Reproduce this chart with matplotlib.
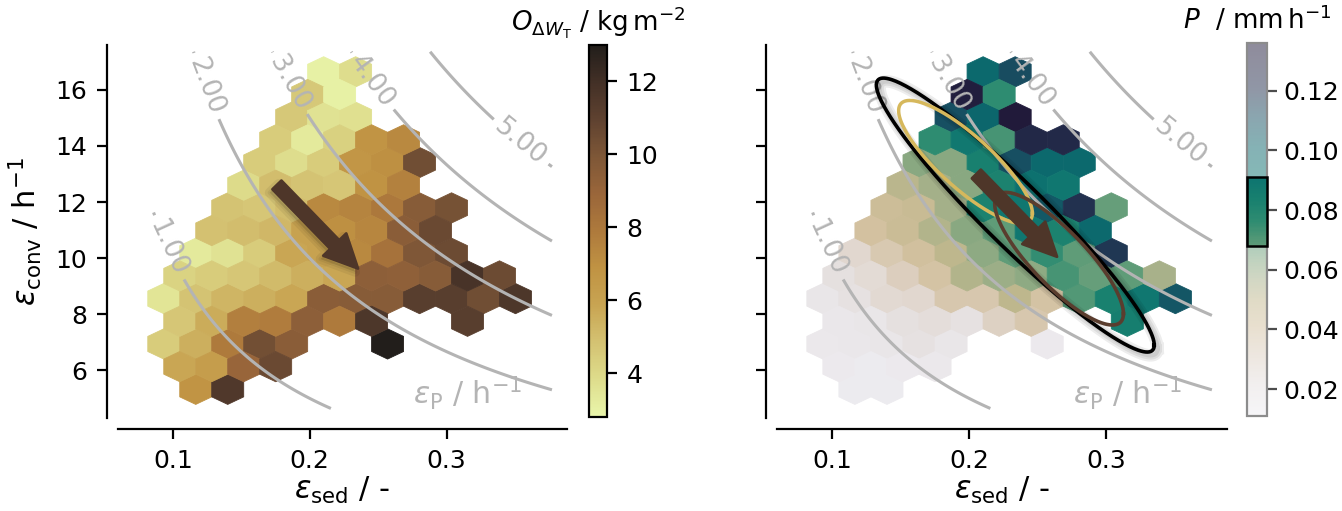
import numpy as np
import matplotlib
matplotlib.use("Agg")
import matplotlib.pyplot as plt
import matplotlib.patheffects as pe
from matplotlib.colors import LinearSegmentedColormap, Normalize
from matplotlib.cm import ScalarMappable
from matplotlib.patches import FancyArrowPatch, ArrowStyle, Rectangle

# hexbin cell centres (row by row, top to bottom) and the cell means
eps_sed = [
    0.2102, 0.2336,
    0.1986, 0.2219,
    0.1869, 0.2102, 0.2336,
    0.1752, 0.1986, 0.2219, 0.2453, 0.2686,
    0.1635, 0.1869, 0.2102, 0.2336, 0.2569, 0.2803,
    0.1518, 0.1752, 0.1986, 0.2219, 0.2453, 0.2686,
    0.1401, 0.1635, 0.1869, 0.2102, 0.2336, 0.2569, 0.2803, 0.3037,
    0.1285, 0.1518, 0.1752, 0.1986, 0.2219, 0.2453, 0.2686, 0.2920,
    0.1168, 0.1401, 0.1635, 0.1869, 0.2102, 0.2336, 0.2569, 0.2803, 0.3037,
    0.1051, 0.1285, 0.1518, 0.1752, 0.1986, 0.2219, 0.2453, 0.2686, 0.2920, 0.3153, 0.3387,
    0.0934, 0.1168, 0.1401, 0.1635, 0.1869, 0.2102, 0.2336, 0.2569, 0.2803, 0.3037, 0.3270, 0.3504,
    0.1051, 0.1285, 0.1518, 0.1752, 0.1986, 0.2219, 0.2453, 0.3153,
    0.0934, 0.1168, 0.1401, 0.1635, 0.1869, 0.2569,
    0.1051, 0.1285, 0.1518, 0.1752,
    0.1168, 0.1401,
]
eps_conv = [
    16.64, 16.64,
    15.83, 15.83,
    15.03, 15.03, 15.03,
    14.22, 14.22, 14.22, 14.22, 14.22,
    13.41, 13.41, 13.41, 13.41, 13.41, 13.41,
    12.60, 12.60, 12.60, 12.60, 12.60, 12.60,
    11.79, 11.79, 11.79, 11.79, 11.79, 11.79, 11.79, 11.79,
    10.98, 10.98, 10.98, 10.98, 10.98, 10.98, 10.98, 10.98,
    10.17, 10.17, 10.17, 10.17, 10.17, 10.17, 10.17, 10.17, 10.17,
    9.37, 9.37, 9.37, 9.37, 9.37, 9.37, 9.37, 9.37, 9.37, 9.37, 9.37,
    8.56, 8.56, 8.56, 8.56, 8.56, 8.56, 8.56, 8.56, 8.56, 8.56, 8.56, 8.56,
    7.75, 7.75, 7.75, 7.75, 7.75, 7.75, 7.75, 7.75,
    6.94, 6.94, 6.94, 6.94, 6.94, 6.94,
    6.13, 6.13, 6.13, 6.13,
    5.32, 5.32,
]
# water-path overshoot O_dWT (kg m-2)
owt = [
    3.0, 3.8,
    4.6, 3.0,
    4.6, 3.6, 3.7,
    4.5, 3.3, 4.3, 6.8, 7.3,
    4.5, 3.8, 4.5, 6.7, 7.0, 10.4,
    3.9, 5.0, 4.8, 4.7, 6.9, 7.6,
    4.8, 4.7, 5.0, 7.3, 7.5, 8.0, 9.6, 10.2,
    4.9, 5.0, 5.2, 6.0, 7.0, 7.4, 9.5, 10.6,
    3.3, 3.6, 4.5, 5.8, 6.0, 7.3, 8.3, 9.9, 10.5,
    4.2, 4.5, 4.7, 5.1, 5.5, 5.8, 9.4, 9.3, 9.6, 11.8, 10.5,
    3.5, 4.8, 5.3, 5.5, 5.8, 9.5, 9.6, 9.6, 11.2, 11.2, 10.4, 11.6,
    4.7, 5.6, 7.7, 7.8, 9.4, 7.9, 11.6, 11.2,
    4.5, 5.5, 7.9, 10.3, 9.5, 13.0,
    5.8, 6.3, 9.0, 10.6,
    6.8, 11.5,
]
# precipitation rate P (mm h-1)
precip = [
    0.0985, 0.112,
    0.133, 0.076,
    0.111, 0.101, 0.136,
    0.076, 0.0885, 0.072, 0.126, 0.125,
    0.062, 0.062, 0.0835, 0.111, 0.0985, 0.0985,
    0.052, 0.057, 0.062, 0.082, 0.093, 0.089,
    0.045, 0.047, 0.057, 0.082, 0.089, 0.107, 0.120, 0.067,
    0.041, 0.046, 0.0535, 0.062, 0.068, 0.089, 0.082, 0.0985,
    0.027, 0.036, 0.042, 0.051, 0.061, 0.068, 0.075, 0.068, 0.118,
    0.022, 0.025, 0.032, 0.040, 0.0535, 0.0585, 0.061, 0.072, 0.067, 0.068, 0.056,
    0.017, 0.021, 0.026, 0.027, 0.037, 0.037, 0.051, 0.040, 0.070, 0.083, 0.089, 0.108,
    0.016, 0.017, 0.022, 0.0235, 0.021, 0.031, 0.037, 0.085,
    0.015, 0.016, 0.017, 0.021, 0.017, 0.014,
    0.014, 0.013, 0.014, 0.015,
    0.013, 0.013,
]

# precipitation-efficiency isolines eps_P = eps_sed * eps_conv
ep_levels = [1, 2, 3, 4, 5]
ep_label_pos = [(0.0964, 10.36), (0.127, 16.18), (0.1876, 16.29),
                (0.2474, 16.36), (0.3555, 14.21)]

# shift of the distribution centre
shift_owt = [(0.1761, 12.61), (0.2353, 9.63)]
shift_p = [(0.2053, 13.00), (0.2641, 10.05)]

# covariance ellipses in (eps_sed, eps_conv): mean, [sxx, sxy, syy]
ell_all = [(0.2337, 11.536), (0.010255, -0.46953, 23.861)]
ell_early = [(0.1974, 13.43), (0.002376, -0.08912, 4.8075)]
ell_late = [(0.2656, 9.98), (0.0022007, -0.09182, 5.5906)]

# P band of the late cluster, highlighted on the colourbar
p_band = (0.068, 0.091)

turbid = LinearSegmentedColormap.from_list("turbid", [
    (0.0, "#e9f6ab"), (0.1, "#dedd8c"), (0.2, "#d4c272"), (0.3, "#c8a452"),
    (0.4, "#c09343"), (0.5, "#ae7a3c"), (0.6, "#9a663a"), (0.7, "#7e5737"),
    (0.8, "#5f4230"), (0.9, "#433026"), (1.0, "#221e1b")])
rain = LinearSegmentedColormap.from_list("rain", [
    (0.0, "#eeedf2"), (0.08, "#e6e1e1"), (0.16, "#ddd0c2"), (0.24, "#d3c1a0"),
    (0.31, "#c2b88e"), (0.37, "#a3b089"), (0.42, "#80a67f"), (0.46, "#5a9a77"),
    (0.52, "#2f8c71"), (0.58, "#18806f"), (0.64, "#0d7470"), (0.72, "#0c666c"),
    (0.80, "#174f62"), (0.88, "#232f4e"), (1.0, "#211a3a")])

GREY = "#b4b4b4"
ARROW = "#4e3629"
HEX_EXTENT = (0.070074, 0.397086, 3.7058, 19.8778)
TICK_FS = 9
LABEL_FS = 11


def soft_shadow(offset, widths=(1.5, 3.5), alpha=0.06):
    fx = [pe.SimplePatchShadow(offset=offset, shadow_rgbFace="k", alpha=alpha,
                               linewidth=w, foreground="k") for w in widths]
    return fx + [pe.Normal()]


def line_shadow(offset, widths=(1.5, 3, 4.5), alpha=0.07):
    fx = [pe.SimpleLineShadow(offset=offset, shadow_color="k", alpha=alpha,
                              linewidth=w) for w in widths]
    return fx + [pe.Normal()]


def draw_ellipse(ax, ell, color, lw, **kw):
    mu, (sxx, sxy, syy) = ell
    L = np.linalg.cholesky(np.array([[sxx, sxy], [sxy, syy]]))
    t = np.linspace(0, 2 * np.pi, 300)
    pts = L @ np.vstack([np.cos(t), np.sin(t)])
    return ax.plot(mu[0] + pts[0], mu[1] + pts[1], color=color, lw=lw, **kw)


def draw_arrow(ax, pts, shadow=True):
    arr = FancyArrowPatch(pts[0], pts[1],
                          arrowstyle=ArrowStyle.Simple(head_length=12, head_width=11.5, tail_width=4.5),
                          mutation_scale=1, shrinkA=0, shrinkB=0,
                          color=ARROW, zorder=6)
    if shadow:
        arr.set_path_effects(soft_shadow((-1.0, -1.2)))
    ax.add_patch(arr)


def style_axes(ax):
    for s in ("top", "right"):
        ax.spines[s].set_visible(False)
    for s in ("left", "bottom"):
        ax.spines[s].set_position(("outward", 4))
    ax.set_xlim(0.06, 0.388)
    ax.set_ylim(4.3, 17.6)
    ax.set_xticks([0.1, 0.2, 0.3])
    ax.set_yticks([6, 8, 10, 12, 14, 16])
    ax.tick_params(labelsize=TICK_FS)
    ax.set_xlabel(r"$\varepsilon_\mathrm{sed}$ / -", fontsize=LABEL_FS, labelpad=1)


def isolines(ax):
    xg = np.linspace(0.086, 0.377, 300)
    yg = np.linspace(4.64, 17.36, 300)
    X, Y = np.meshgrid(xg, yg)
    cs = ax.contour(X, Y, X * Y, levels=ep_levels, colors=GREY,
                    linewidths=1.1, zorder=3)
    ax.clabel(cs, manual=ep_label_pos, fmt="%.2f", fontsize=9.5,
              inline=True, inline_spacing=6)
    ax.text(0.9, 0.015, r"$\varepsilon_\mathrm{P}$ / h$^{-1}$", color=GREY,
            fontsize=10.8, ha="right", va="bottom", transform=ax.transAxes)


fig = plt.figure(figsize=(6.71, 2.555), dpi=200)
ax1 = fig.add_axes([0.08793, 0.182, 0.33458, 0.72994])
cax1 = fig.add_axes([0.4389, 0.18395, 0.01341, 0.72798])
ax2 = fig.add_axes([0.57899, 0.182, 0.33532, 0.72994])
cax2 = fig.add_axes([0.92921, 0.18591, 0.0149, 0.72994])

# left: water-path overshoot
style_axes(ax1)
hb1 = ax1.hexbin(eps_sed, eps_conv, C=owt, gridsize=(14, 10), extent=HEX_EXTENT,
                 cmap=turbid, vmin=2.8, vmax=13.0, linewidths=0.3,
                 edgecolors="face", zorder=1)
isolines(ax1)
draw_arrow(ax1, shift_owt)
ax1.set_ylabel(r"$\varepsilon_\mathrm{conv}$ / h$^{-1}$", fontsize=LABEL_FS)

cb1 = fig.colorbar(hb1, cax=cax1, ticks=[4, 6, 8, 10, 12])
cb1.ax.tick_params(labelsize=TICK_FS)
cax1.set_title(r"$O_{\Delta W_\mathrm{T}}$ / kg$\,$m$^{-2}$", fontsize=9.4, pad=5)

# right: precipitation rate with the cluster ellipses
style_axes(ax2)
ax2.tick_params(labelleft=False)
norm_p = Normalize(0.011, 0.136)
hb2 = ax2.hexbin(eps_sed, eps_conv, C=precip, gridsize=(14, 10), extent=HEX_EXTENT,
                 cmap=rain, norm=norm_p, linewidths=0.3, edgecolors="face", zorder=1)
isolines(ax2)
draw_ellipse(ax2, ell_all, "k", 1.3, zorder=5,
             path_effects=line_shadow((1.2, -1.2)))
draw_ellipse(ax2, ell_early, "#d6b85c", 1.25, zorder=5)
draw_ellipse(ax2, ell_late, "#5a3d2e", 1.3, zorder=5)
draw_arrow(ax2, shift_p, shadow=False)

sm = ScalarMappable(norm=norm_p, cmap=rain)
cb2 = fig.colorbar(sm, cax=cax2, alpha=0.5,
                   ticks=[0.02, 0.04, 0.06, 0.08, 0.10, 0.12])
cb2.outline.set_edgecolor("0.55")
cb2.ax.tick_params(labelsize=TICK_FS, color="0.3", pad=2.5)
band = np.linspace(p_band[0], p_band[1], 64)
cax2.pcolormesh([0, 1], band, band[:-1, None], cmap=rain, norm=norm_p, zorder=3)
cax2.add_patch(Rectangle((0, p_band[0]), 1, p_band[1] - p_band[0], fill=False,
                         ec="k", lw=0.9, zorder=4, clip_on=False))
cax2.set_title(r"$P$  / mm$\,$h$^{-1}$", fontsize=9.4, pad=5)

fig.savefig("out.png", dpi=200)
